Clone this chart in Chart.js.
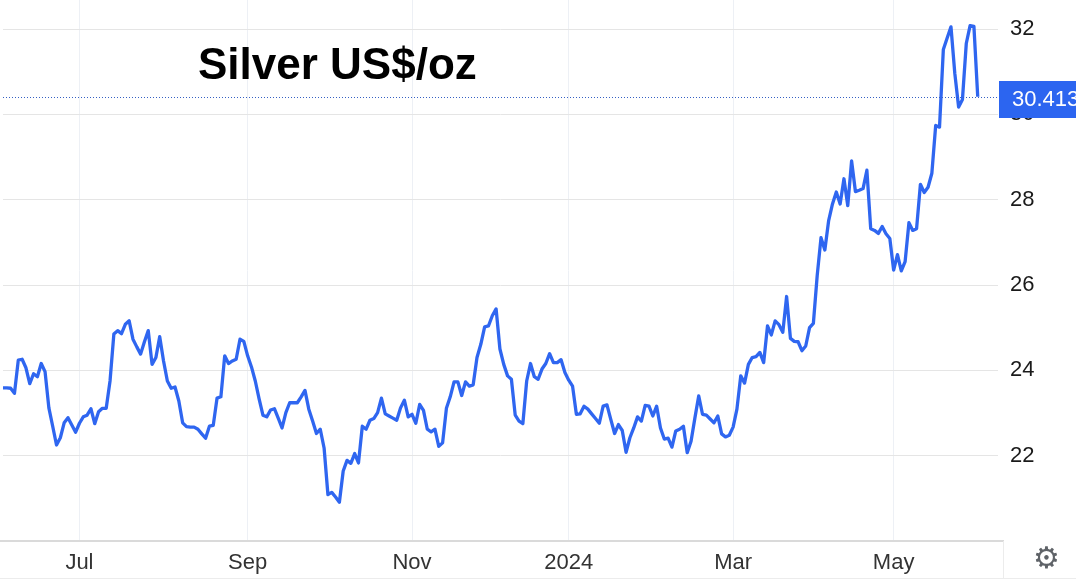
<!DOCTYPE html>
<html><head><meta charset="utf-8">
<script src="https://cdn.jsdelivr.net/npm/chart.js@4.4.1/dist/chart.umd.min.js"></script>
<style>
html,body{margin:0;padding:0;background:#fff;}
#wrap{position:relative;width:1076px;height:582px;overflow:hidden;}
#c{position:absolute;left:0;top:0;}
#title{position:absolute;left:198px;top:42px;font:bold 44px "Liberation Sans",Arial,sans-serif;line-height:44px;color:#000;white-space:nowrap;}
#gear{position:absolute;left:1033px;top:543px;font:30px "DejaVu Sans",sans-serif;color:#5f6368;line-height:30px;}
</style></head>
<body><div id="wrap"><canvas id="c" width="1076" height="582"></canvas><div id="title">Silver US$/oz</div><div id="gear">⚙</div></div>
<script>
// Daily silver price, US$/oz (trading days from 2023-06-05 to 2024-05-31)
const prices = [
23.59,23.59,23.58,23.46,24.24,24.26,24.06,23.69,23.92,23.85,
24.16,23.97,23.12,22.69,22.25,22.42,22.77,22.89,22.72,22.55,
22.76,22.91,22.95,23.10,22.75,23.03,23.11,23.11,23.75,24.85,
24.93,24.86,25.08,25.16,24.73,24.55,24.38,24.67,24.93,24.14,
24.30,24.79,24.22,23.75,23.58,23.61,23.28,22.77,22.68,22.67,
22.67,22.62,22.51,22.41,22.69,22.71,23.35,23.38,24.34,24.16,
24.22,24.26,24.73,24.68,24.34,24.08,23.75,23.33,22.95,22.91,
23.07,23.10,22.88,22.65,23.01,23.24,23.24,23.24,23.38,23.53,
23.09,22.81,22.52,22.62,22.18,21.09,21.14,21.03,20.91,21.64,
21.89,21.82,22.05,21.83,22.69,22.62,22.83,22.87,23.01,23.35,
22.98,22.93,22.88,22.83,23.12,23.30,22.91,22.97,22.76,23.20,
23.06,22.62,22.56,22.62,22.22,22.30,23.11,23.38,23.73,23.73,
23.41,23.73,23.63,23.66,24.30,24.61,25.02,25.04,25.28,25.44,
24.50,24.14,23.87,23.79,22.95,22.81,22.75,23.75,24.16,23.85,
23.79,24.03,24.16,24.39,24.18,24.18,24.25,23.95,23.77,23.63,
22.97,22.98,23.16,23.09,22.98,22.87,22.76,23.16,23.19,22.85,
22.52,22.73,22.59,22.08,22.42,22.65,22.91,22.81,23.18,23.16,
22.93,23.16,22.65,22.39,22.41,22.20,22.58,22.62,22.69,22.07,
22.34,22.88,23.40,22.97,22.95,22.86,22.77,22.93,22.51,22.44,
22.48,22.67,23.09,23.87,23.70,24.14,24.30,24.32,24.42,24.18,
25.04,24.83,25.16,25.07,24.89,25.73,24.75,24.68,24.67,24.46,
24.57,25.00,25.10,26.22,27.11,26.82,27.51,27.90,28.18,27.90,
28.49,27.86,28.91,28.19,28.22,28.26,28.69,27.32,27.28,27.21,
27.37,27.20,27.09,26.35,26.71,26.33,26.55,27.46,27.28,27.32,
28.36,28.17,28.29,28.62,29.74,29.70,31.52,31.79,32.05,30.96,
30.17,30.35,31.66,32.08,32.06,30.413
];
const startDate = '2023-06-05';
const holidays = ['2023-11-23','2023-12-25','2024-01-01','2024-03-29'];
const tickMonths = ['2023-07','2023-09','2023-11','2024-01','2024-03','2024-05'];
const tickLabels = ['Jul','Sep','Nov','2024','Mar','May'];
const yTicks = [22,24,26,28,30,32];
const lastLabel = '30.413';

const dates = [];
{
  const d = new Date(startDate + 'T00:00:00Z');
  while (dates.length < prices.length) {
    const iso = d.toISOString().slice(0,10);
    const wd = d.getUTCDay();
    if (wd !== 0 && wd !== 6 && !holidays.includes(iso)) dates.push(iso);
    d.setUTCDate(d.getUTCDate() + 1);
  }
}
const tickIdx = tickMonths.map(m => dates.findIndex(s => s.startsWith(m)));
const points = prices.map((p, i) => ({x: i, y: p}));

const FONT = '"Liberation Sans", Arial, sans-serif';

const overlay = {
  id: 'overlay',
  beforeDatasetsDraw(chart) {
    const {ctx, chartArea} = chart;
    ctx.save();
    ctx.strokeStyle = '#dadada';
    ctx.lineWidth = 2;
    ctx.beginPath();
    ctx.moveTo(0, chartArea.bottom);
    ctx.lineTo(1004, chartArea.bottom);
    ctx.stroke();
    ctx.strokeStyle = '#ececec';
    ctx.lineWidth = 1;
    ctx.beginPath();
    ctx.moveTo(1003.5, chartArea.bottom);
    ctx.lineTo(1003.5, 578);
    ctx.moveTo(0, 578.5);
    ctx.lineTo(1076, 578.5);
    ctx.stroke();
    ctx.restore();
  },
  afterDatasetsDraw(chart) {
    const {ctx, chartArea, scales} = chart;
    const last = prices[prices.length - 1];
    const y = Math.round(scales.y.getPixelForValue(last)) + 0.5;
    ctx.save();
    ctx.strokeStyle = '#3560c4';
    ctx.lineWidth = 1;
    ctx.setLineDash([1, 2]);
    ctx.beginPath();
    ctx.moveTo(chartArea.left, y);
    ctx.lineTo(chartArea.right + 2, y);
    ctx.stroke();
    ctx.setLineDash([]);
    ctx.fillStyle = '#2c65f0';
    ctx.fillRect(chartArea.right + 1, y - 16.5, 1076 - chartArea.right, 37);
    ctx.fillStyle = '#ffffff';
    ctx.font = '22px ' + FONT;
    ctx.textBaseline = 'middle';
    ctx.textAlign = 'left';
    ctx.fillText(lastLabel, 1012, y + 2.5);
    ctx.restore();
  }
};

new Chart(document.getElementById('c'), {
  type: 'line',
  data: {
    datasets: [{
      data: points,
      borderColor: '#2f66f0',
      borderWidth: 3.3,
      borderJoinStyle: 'round',
      pointRadius: 0,
      tension: 0,
      fill: false,
      clip: false
    }]
  },
  options: {
    responsive: false,
    animation: false,
    events: [],
    layout: {padding: {left: 3, top: 0, right: 0, bottom: 0}},
    plugins: {legend: {display: false}, tooltip: {enabled: false}, title: {display: false}},
    scales: {
      x: {
        type: 'linear',
        min: 0,
        max: prices.length - 1 + 5.3,
        afterBuildTicks: s => { s.ticks = tickIdx.map(v => ({value: v})); },
        afterFit: s => { s.height = 41; s.paddingLeft = 0; s.paddingRight = 0; },
        grid: {color: '#edf0f5', lineWidth: 1, drawTicks: false},
        border: {display: false},
        ticks: {
          autoSkip: false, maxRotation: 0, padding: 9,
          color: '#333333', font: {size: 22, family: FONT},
          callback: v => { const k = tickIdx.indexOf(v); return k >= 0 ? tickLabels[k] : ''; }
        }
      },
      y: {
        position: 'right',
        min: 20,
        max: 32.68,
        afterBuildTicks: s => { s.ticks = yTicks.map(v => ({value: v})); },
        afterFit: s => { s.width = 78; s.paddingTop = 0; s.paddingBottom = 0; },
        grid: {color: '#e5e5e5', lineWidth: 1, drawTicks: false},
        border: {display: false},
        ticks: {
          padding: 12, color: '#1a1a1a', font: {size: 22, family: FONT},
          callback: v => String(v)
        }
      }
    }
  },
  plugins: [overlay]
});
</script>
</body></html>
